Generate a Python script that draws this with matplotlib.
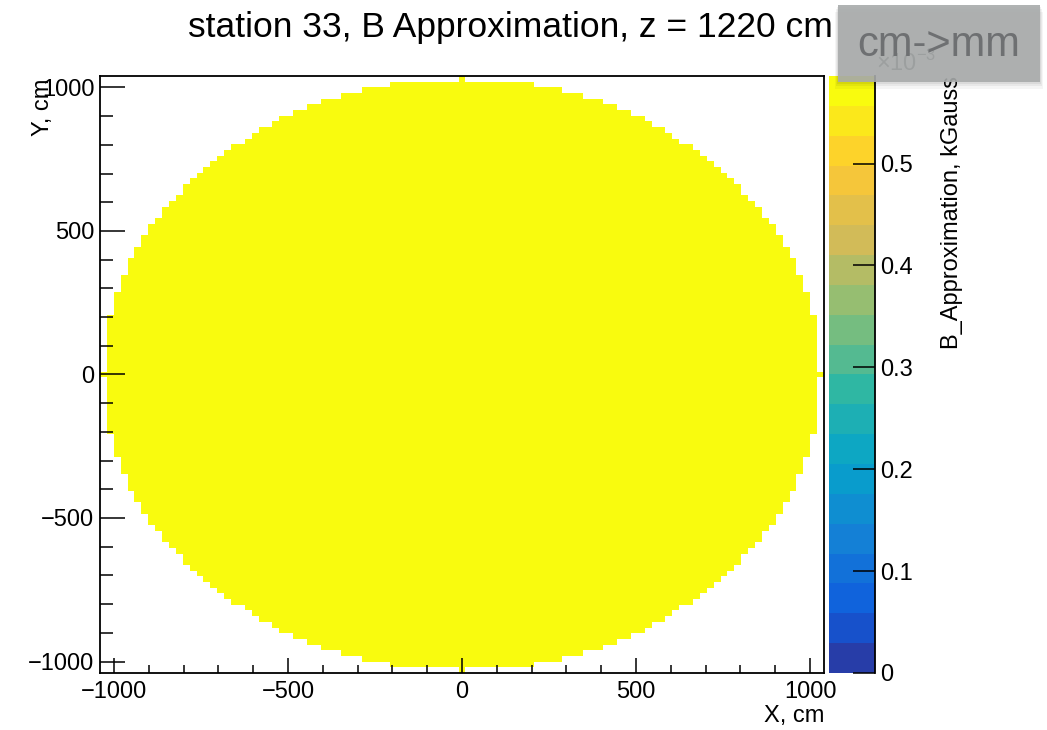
import numpy as np
import matplotlib
matplotlib.use('Agg')
import matplotlib.pyplot as plt
from matplotlib.colors import LinearSegmentedColormap, ListedColormap, BoundaryNorm
from matplotlib.patches import Rectangle

plt.rcParams['font.family'] = ['Liberation Sans', 'DejaVu Sans']
plt.rcParams['mathtext.fontset'] = 'custom'
plt.rcParams['mathtext.rm'] = 'Liberation Sans'

# Data: station map, constant field inside the station disc
title = 'station 33, B Approximation, z = 1220 cm'
x_range = (-1040, 1040)
y_range = (-1040, 1040)
n_bins = 105                 # cells per axis
station_radius = 1030.2      # cm
field_value = 0.585e-3       # kGauss, same in every filled cell
z_max = 0.586e-3             # top of colour scale
n_contours = 20
cbar_ticks = [0, 0.1, 0.2, 0.3, 0.4, 0.5]   # x 1e-3

# ROOT kBird palette
bird_stops = [0.0, 0.125, 0.25, 0.375, 0.5, 0.625, 0.75, 0.875, 1.0]
bird_r = [0.2082, 0.0592, 0.0780, 0.0232, 0.1802, 0.5301, 0.8186, 0.9956, 0.9764]
bird_g = [0.1664, 0.3599, 0.5041, 0.6419, 0.7178, 0.7492, 0.7328, 0.7862, 0.9832]
bird_b = [0.5293, 0.8684, 0.8385, 0.7914, 0.6425, 0.4662, 0.3499, 0.1968, 0.0539]

bird = LinearSegmentedColormap.from_list(
    'bird', list(zip(bird_stops, zip(bird_r, bird_g, bird_b))))
# pick contour colours the way ROOT does from its 255-colour gradient
idx = ((np.arange(n_contours) + 0.99) * 255 / n_contours).astype(int)
cmap = ListedColormap(bird(np.minimum(idx, 254) / 254))
levels = np.linspace(0, z_max * 1e3, n_contours + 1)
norm = BoundaryNorm(levels, cmap.N)

# fill the grid
xe = np.linspace(*x_range, n_bins + 1)
ye = np.linspace(*y_range, n_bins + 1)
xc = 0.5 * (xe[1:] + xe[:-1])
yc = 0.5 * (ye[1:] + ye[:-1])
XX, YY = np.meshgrid(xc, yc)
inside = XX**2 + YY**2 <= station_radius**2
grid = np.ma.masked_where(~inside, np.full(XX.shape, field_value * 1e3))

fig = plt.figure(figsize=(10.47, 7.30), dpi=100)
ax = fig.add_axes([0.0955, 0.0781, 0.6915, 0.8178])
cax = fig.add_axes([0.7918, 0.0781, 0.0439, 0.8178])

mesh = ax.pcolormesh(xe, ye, grid, cmap=cmap, norm=norm)
ax.set_xlim(*x_range)
ax.set_ylim(*y_range)

ax.set_xticks([-1000, -500, 0, 500, 1000])
ax.set_xticks(np.arange(-1000, 1001, 100), minor=True)
ax.set_yticks([-1000, -500, 0, 500, 1000])
ax.set_yticks(np.arange(-1000, 1001, 100), minor=True)
ax.tick_params(axis='x', which='major', direction='in', length=11, width=1.1,
               labelsize=17, pad=6)
ax.tick_params(axis='x', which='minor', direction='in', length=5.5, width=1.1)
ax.tick_params(axis='y', which='major', direction='in', length=18, width=1.1,
               labelsize=17, pad=4)
ax.tick_params(axis='y', which='minor', direction='in', length=9, width=1.1)
for s in ax.spines.values():
    s.set_linewidth(1.3)

ax.set_xlabel('X, cm', fontsize=17, loc='right', labelpad=1)
ax.set_ylabel('Y, cm', fontsize=17, loc='top')
ax.yaxis.set_label_coords(-0.064, 0.995)

cb = fig.colorbar(mesh, cax=cax, boundaries=levels)
cb.outline.set_visible(False)
cax.spines['right'].set_visible(True)
cax.spines['right'].set_linewidth(1.3)
cb.set_ticks(cbar_ticks)
cb.set_ticklabels(['0', '0.1', '0.2', '0.3', '0.4', '0.5'])
cax.tick_params(axis='y', direction='in', length=16, width=1.1, labelsize=17, pad=4)
cax.minorticks_off()
cb.set_label('B_Approximation, kGauss', fontsize=17, loc='top', labelpad=20)

fig.text(0.488, 0.963, title, ha='center', va='center', fontsize=25.5)
fig.text(0.8367, 0.9137, r'$\times10^{-3}$', ha='left', va='center',
         fontsize=17, color='0.25')

# grey overlay box with a soft shadow
for i, a in enumerate([0.06, 0.05, 0.04]):
    d = (i + 1) * 0.003
    fig.patches.append(Rectangle((0.8004 - d * 0.3, 0.8877 - d), 0.1929 + d * 0.6, 0.1055,
                                 transform=fig.transFigure, facecolor='black',
                                 alpha=a, edgecolor='none', zorder=9))
fig.patches.append(Rectangle((0.8004, 0.8877), 0.1929, 0.1055,
                             transform=fig.transFigure, facecolor='#a8abab',
                             alpha=0.9, edgecolor='none', zorder=10))
fig.text(0.8967, 0.938, 'cm->mm', ha='center', va='center', fontsize=30,
         color='#6e7072', zorder=11)

fig.savefig('out.png', dpi=100)
